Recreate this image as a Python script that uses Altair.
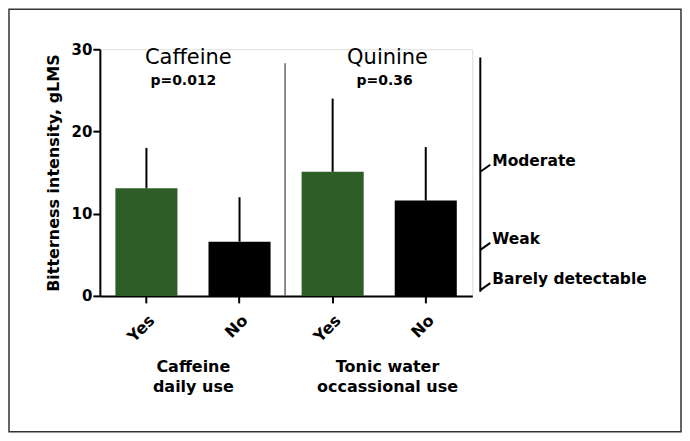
import altair as alt
import pandas as pd

# ---- data ----
categories = ["Caffeine|Yes", "Caffeine|No", "Quinine|Yes", "Quinine|No"]
use_labels = ["Yes", "No", "Yes", "No"]
means = [13.1, 6.6, 15.1, 11.6]
upper = [18.0, 12.0, 24.0, 18.1]

panel_titles = ["Caffeine", "Quinine"]
p_values = ["p=0.012", "p=0.36"]
group_labels = ["Caffeine\ndaily use", "Tonic water\noccassional use"]
anchor_categories = ["Caffeine|Yes", "Quinine|Yes"]

descriptor_labels = ["Barely detectable", "Weak", "Moderate"]
descriptor_pos = [0.7, 5.6, 15.1]

df = pd.DataFrame({"cat": categories, "use": use_labels, "mean": means, "upper": upper})
desc_df = pd.DataFrame({"label": descriptor_labels, "pos": descriptor_pos})
one = pd.DataFrame({"a": [0]})

GREEN = "#2e5e27"
FONT = "DejaVu Sans"
YTITLE = "Bitterness intensity, gLMS"

xscale = alt.Scale(domain=categories, paddingInner=1 / 3, paddingOuter=1 / 6)
yscale = alt.Scale(domain=[0, 30], nice=False)

x_axis = alt.Axis(
    title=None,
    labelExpr="split(datum.value, '|')[1]",
    labelAngle=-45,
    labelAlign="right",
    labelBaseline="top",
    labelPadding=9,
    labelFontSize=16,
    labelFontWeight="bold",
    labelColor="black",
    tickSize=7,
    tickWidth=2,
    tickColor="black",
    domainWidth=2,
    domainColor="black",
)
y_axis = alt.Axis(
    title=YTITLE,
    values=[0, 10, 20, 30],
    grid=False,
    labelFontSize=15,
    labelFontWeight="bold",
    labelColor="black",
    labelPadding=1,
    tickSize=7,
    tickWidth=2,
    tickColor="black",
    domainWidth=2,
    domainColor="black",
    titleFontSize=16,
    titleFontWeight="bold",
    titleColor="black",
    titlePadding=10,
)

X = alt.X("cat:N", scale=xscale, sort=categories, axis=x_axis)

bars = alt.Chart(df).mark_bar().encode(
    x=X,
    y=alt.Y("mean:Q", scale=yscale, axis=y_axis, title=YTITLE),
    color=alt.Color("use:N", scale=alt.Scale(domain=["Yes", "No"], range=[GREEN, "black"]), legend=None),
)

errs = alt.Chart(df).mark_rule(color="black", strokeWidth=2).encode(
    x=X,
    y=alt.Y("mean:Q", scale=yscale, title=YTITLE),
    y2="upper:Q",
)

divider = alt.Chart(one).mark_rule(color="#666666", strokeWidth=1.5).encode(
    x=alt.value(185.5), y=alt.datum(28.3), y2=alt.datum(0)
)

right_axis = alt.Chart(one).mark_rule(color="black", strokeWidth=2).encode(
    x=alt.value(381), y=alt.datum(29.0), y2=alt.datum(0.5)
)

desc_ticks = alt.Chart(desc_df).transform_calculate(top="datum.pos + 0.85").mark_rule(
    color="black", strokeWidth=2
).encode(
    x=alt.value(381), x2=alt.value(391),
    y=alt.Y("pos:Q", scale=yscale, title=YTITLE), y2="top:Q",
)

desc_text = alt.Chart(desc_df).mark_text(
    align="left", baseline="middle", dy=-11, fontSize=15.5, fontWeight="bold", font=FONT, color="black"
).encode(x=alt.value(393), y=alt.Y("pos:Q", scale=yscale, title=YTITLE), text="label:N")

layers = [bars, errs, divider, right_axis, desc_ticks, desc_text]

title_dx = [42, 55]
p_dx = [37, 52]
group_dx = [47, 55]
for i, anchor in enumerate(anchor_categories):
    adf = pd.DataFrame({"cat": [anchor]})
    xa = alt.X("cat:N", scale=xscale, sort=categories, axis=x_axis)
    layers.append(
        alt.Chart(adf).mark_text(fontSize=21, font=FONT, color="black", baseline="middle", dx=title_dx[i])
        .encode(x=xa, y=alt.datum(28.9), text=alt.value(panel_titles[i]))
    )
    layers.append(
        alt.Chart(adf).mark_text(fontSize=14, fontWeight="bold", font=FONT, color="black", baseline="middle", dx=p_dx[i])
        .encode(x=xa, y=alt.datum(26.1), text=alt.value(p_values[i]))
    )
    layers.append(
        alt.Chart(adf).mark_text(fontSize=16, fontWeight="bold", font=FONT, color="black", baseline="middle",
                                 lineBreak="\n", lineHeight=20, dx=group_dx[i])
        .encode(x=xa, y=alt.value(318), text=alt.value(group_labels[i]))
    )

border = alt.Chart(one).mark_rect(fillOpacity=0, stroke="#333333", strokeWidth=1.5).encode(
    x=alt.value(-91), x2=alt.value(582), y=alt.value(-40), y2=alt.value(383)
)
layers.append(border)

chart = alt.layer(*layers).properties(
    width=373,
    height=247,
    padding={"left": 92, "top": 41, "right": 210, "bottom": 137},
    autosize=alt.AutoSizeParams(type="none"),
    background="white",
).configure_view(stroke=None).configure(font=FONT)

chart.save("out.html", embed_options={"renderer": "svg", "actions": False})
